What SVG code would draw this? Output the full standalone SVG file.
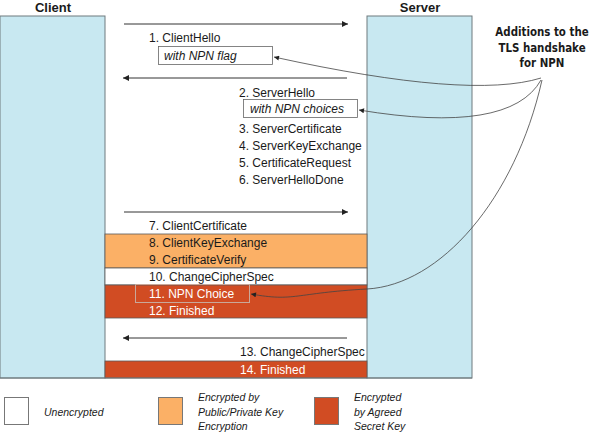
<svg xmlns="http://www.w3.org/2000/svg" width="590" height="432" viewBox="0 0 590 432">
<style>
.t{font-family:"Liberation Sans",Arial,sans-serif;font-size:12px;fill:#1a1a1a}
.tw{font-family:"Liberation Sans",Arial,sans-serif;font-size:12px;fill:#ffffff}
.it{font-style:italic}
.lg{font-family:"Liberation Sans",Arial,sans-serif;font-size:10.5px;font-style:italic;fill:#1a1a1a}
.h{font-family:"Liberation Sans",Arial,sans-serif;font-size:13px;font-weight:bold;fill:#1a1a1a;text-anchor:middle}
.ann{font-family:"DejaVu Sans",sans-serif;font-size:13px;font-weight:bold;fill:#1a1a1a;text-anchor:middle}
.col{fill:#c8e8f1;stroke:#6f7a7e;stroke-width:1}
.band{stroke:#5a5a5a;stroke-width:0.8}
.arr{stroke:#333;stroke-width:1;fill:none}
.cur{stroke:#444;stroke-width:0.8;fill:none}
.box{fill:none;stroke:#666;stroke-width:0.8}
</style>
<defs>
<marker id="ah" viewBox="0 0 10 10" refX="10" refY="5" markerWidth="8" markerHeight="6" markerUnits="userSpaceOnUse" orient="auto">
<path d="M0,0 L10,5 L0,10 z" fill="#222"/>
</marker>
<marker id="ahs" viewBox="0 0 10 10" refX="10" refY="5" markerWidth="7" markerHeight="5" markerUnits="userSpaceOnUse" orient="auto">
<path d="M0,0 L10,5 L0,10 z" fill="#222"/>
</marker>
</defs>
<rect width="590" height="432" fill="#ffffff"/>

<g id="client">
<rect class="col" x="0" y="16" width="105" height="362"/>
<text class="h" x="53" y="12">Client</text>
</g>
<g id="server">
<rect class="col" x="367" y="16" width="105" height="362"/>
<text class="h" x="420" y="12">Server</text>
</g>

<g id="bands">
<rect class="band" x="105" y="234" width="262" height="34" fill="#fbb066"/>
<rect class="band" x="105" y="268" width="262" height="17" fill="#ffffff"/>
<rect class="band" x="105" y="285" width="262" height="33" fill="#d14c23"/>
<rect class="band" x="105" y="361" width="262" height="17" fill="#d14c23"/>
<line x1="0" y1="378" x2="472" y2="378" stroke="#6f7a7e" stroke-width="1"/>
</g>

<g id="msg1">
<text class="t" x="149" y="42">1. ClientHello</text>
<rect class="box" x="158.5" y="46.5" width="114" height="18"/>
<text class="t it" x="164" y="60">with NPN flag</text>
</g>
<g id="msg2">
<text class="t" x="239" y="97">2. ServerHello</text>
<rect class="box" x="243.5" y="99.5" width="114" height="18"/>
<text class="t it" x="250" y="113">with NPN choices</text>
<text class="t" x="239" y="133">3. ServerCertificate</text>
<text class="t" x="239" y="150">4. ServerKeyExchange</text>
<text class="t" x="239" y="167">5. CertificateRequest</text>
<text class="t" x="239" y="184">6. ServerHelloDone</text>
</g>
<g id="msg3">
<text class="t" x="149" y="230">7. ClientCertificate</text>
<text class="t" x="149" y="247">8. ClientKeyExchange</text>
<text class="t" x="149" y="264">9. CertificateVerify</text>
<text class="t" x="149" y="281">10. ChangeCipherSpec</text>
<rect x="135.5" y="284.5" width="114" height="18" fill="none" stroke="#c9a89a" stroke-width="1"/>
<text class="tw" x="149" y="298">11. NPN Choice</text>
<text class="tw" x="149" y="315">12. Finished</text>
</g>
<g id="msg4">
<text class="t" x="240" y="356">13. ChangeCipherSpec</text>
<text class="tw" x="240" y="374">14. Finished</text>
</g>

<g id="annotation" transform="translate(542,0) scale(0.79,1)">
<text class="ann" x="0" y="36">Additions to the</text>
<text class="ann" x="0" y="52">TLS handshake</text>
<text class="ann" x="0" y="67">for NPN</text>
</g>

<g id="connectors">
<line class="arr" x1="124" y1="24" x2="348" y2="24" marker-end="url(#ah)"/>
<line class="arr" x1="347" y1="78" x2="123" y2="78" marker-end="url(#ah)"/>
<line class="arr" x1="124" y1="212" x2="348" y2="212" marker-end="url(#ah)"/>
<line class="arr" x1="347" y1="338" x2="123" y2="338" marker-end="url(#ah)"/>
<path class="cur" d="M541,78 Q470,100 274,57" marker-end="url(#ahs)"/>
<path class="cur" d="M541,80 Q510,135 359,110" marker-end="url(#ahs)"/>
<path class="cur" d="M542,80 C515,200 440,285 367,289 S295,302 251,294" marker-end="url(#ahs)"/>
</g>

<g id="legend">
<rect x="4.5" y="397.5" width="24" height="27" fill="#ffffff" stroke="#777" stroke-width="1"/>
<text class="lg" x="44" y="416">Unencrypted</text>
<rect x="158.5" y="397.5" width="24" height="27" fill="#fbb066" stroke="#777" stroke-width="1"/>
<text class="lg" x="198" y="401">Encrypted by</text>
<text class="lg" x="198" y="415.5">Public/Private Key</text>
<text class="lg" x="198" y="430">Encryption</text>
<rect x="314.5" y="397.5" width="24" height="27" fill="#d14c23" stroke="#777" stroke-width="1"/>
<text class="lg" x="354" y="401">Encrypted</text>
<text class="lg" x="354" y="415.5">by Agreed</text>
<text class="lg" x="354" y="430">Secret Key</text>
</g>
</svg>
